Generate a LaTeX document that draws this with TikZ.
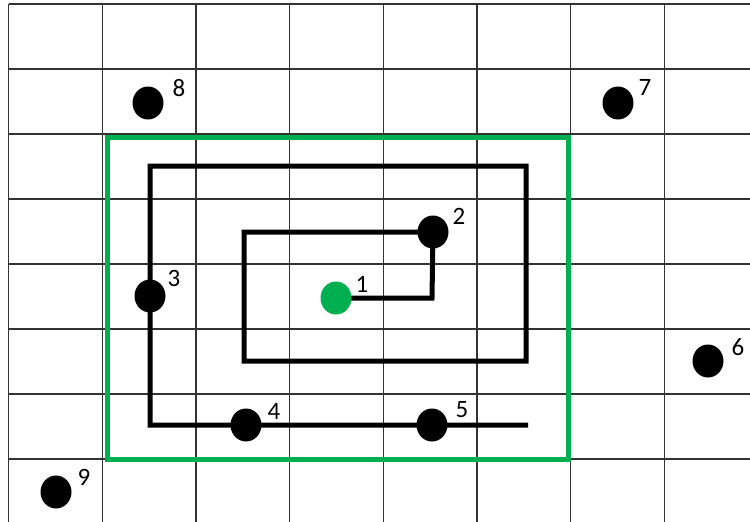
\documentclass[tikz,border=0pt]{standalone}
\usepackage{fontspec}
\setmainfont{Carlito}
\usetikzlibrary{shapes.geometric}
\definecolor{offgreen}{RGB}{0,176,80}
\begin{document}
\begin{tikzpicture}[x=1pt,y=-1pt,
  gridline/.style={draw=black!80,line width=1.2pt},
  greenbox/.style={draw=offgreen,line width=5pt},
  route/.style={draw=black,line width=5pt,line join=miter},
  dot/.style={ellipse,fill=black,minimum width=31pt,minimum height=33pt,inner sep=0pt},
  gdot/.style={ellipse,fill=offgreen,minimum width=31pt,minimum height=33pt,inner sep=0pt},
  lbl/.style={font=\fontsize{25}{29}\selectfont,inner sep=0pt}]
\useasboundingbox (0,0) rectangle (750,522);
\fill[white] (0,0) rectangle (750,522);
% grid
\foreach \k in {0,...,7} {
  \draw[gridline] ({8.5+93.7*\k},4) -- ({8.5+93.7*\k},522);
  \draw[gridline] (8.5,{4+65*\k}) -- (750,{4+65*\k});
}
% green rectangle
\draw[greenbox] (107,137) rectangle (568,459);
% corners of the route
\coordinate (c1) at (432,298);
\coordinate (c2) at (244,232);
\coordinate (c3) at (244,361);
\coordinate (c4) at (526,361);
\coordinate (c5) at (526,166);
\coordinate (c6) at (150,166);
\coordinate (c7) at (150,425);
\coordinate (c8) at (528,425);
% route
\coordinate (p1) at (336,298);
\coordinate (p2) at (433,232);
\draw[route] (p1) -- (c1) -- (p2) -- (c2) -- (c3) -- (c4) -- (c5) -- (c6) -- (c7) -- (c8);
% dots
\node[gdot] (d1) at (p1) {};
\node[dot] (d2) at (p2) {};
\node[dot] (d3) at (150,296) {};
\node[dot] (d4) at (246,425) {};
\node[dot] (d5) at (432,425) {};
\node[dot] (d6) at (708,361) {};
\node[dot] (d7) at (618,103) {};
\node[dot] (d8) at (148,103) {};
\node[dot] (d9) at (56,492) {};
% labels
\node[lbl] (l1) at (362,284) {1};
\node[lbl] (l2) at (459,216) {2};
\node[lbl] (l3) at (174,278) {3};
\node[lbl] (l4) at (274,411) {4};
\node[lbl] (l5) at (462,410) {5};
\node[lbl] (l6) at (738,347) {6};
\node[lbl] (l7) at (645,87) {7};
\node[lbl] (l8) at (179,88) {8};
\node[lbl] (l9) at (84,477) {9};
\end{tikzpicture}
\end{document}
